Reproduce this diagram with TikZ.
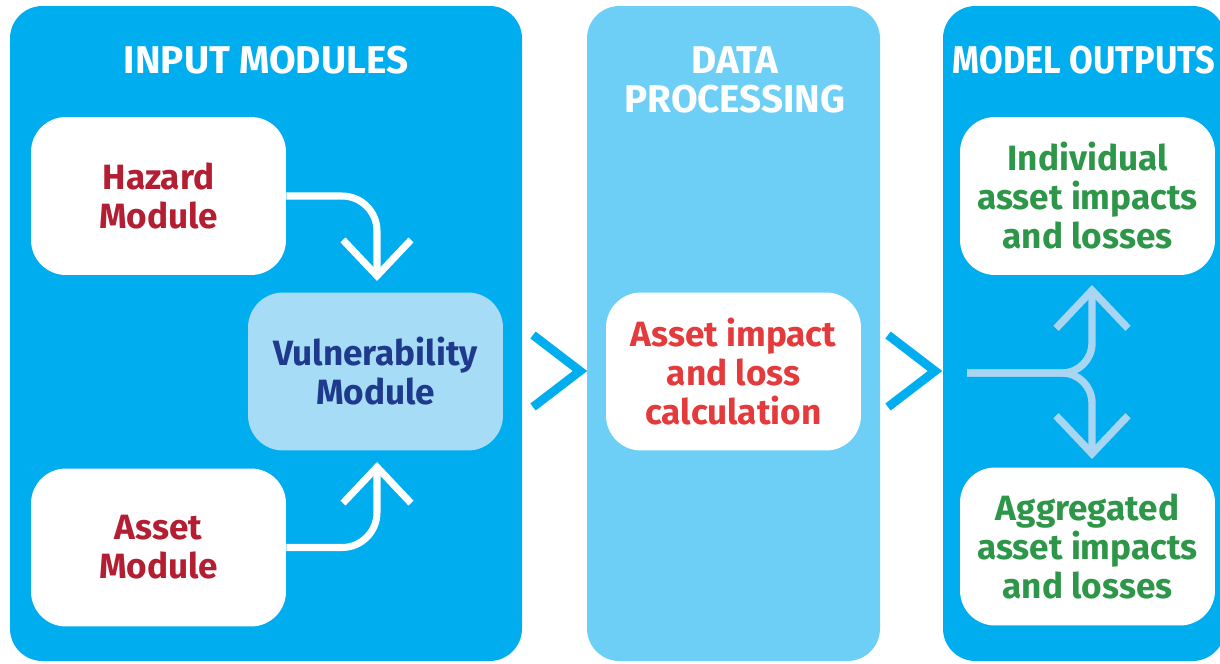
\documentclass[tikz,border=0pt]{standalone}
\usepackage{fontspec}
\setmainfont{Fira Sans}
\usetikzlibrary{arrows.meta}

\definecolor{panelblue}{RGB}{0,173,238}
\definecolor{panellight}{RGB}{109,207,246}
\definecolor{vulnfill}{RGB}{166,220,246}
\definecolor{forkblue}{RGB}{168,214,242}
\definecolor{hazred}{RGB}{180,30,50}
\definecolor{calcred}{RGB}{228,58,60}
\definecolor{vulnnavy}{RGB}{31,58,140}
\definecolor{outgreen}{RGB}{46,150,72}

\begin{document}
\begin{tikzpicture}[x=0.02cm, y=-0.02cm,
	box/.style={rounded corners=0.7cm, fill=white, minimum width=5.1cm, minimum height=3.16cm, align=center, font=\bfseries\fontsize{20}{22.2}\selectfont},
	title/.style={text=white, align=center, font=\bfseries\fontsize{22}{22.2}\selectfont},
	flow/.style={draw=white, line width=4pt, rounded corners=0.7cm, -{Straight Barb[length=0.72cm, width=1.36cm]}},
	fork/.style={draw=forkblue, line width=4.2pt, rounded corners=0.6cm, -{Straight Barb[length=0.76cm, width=1.44cm]}},
	chev/.style={draw=panelblue, line width=5pt, miter limit=10}]
				\useasboundingbox (0,0) rectangle (1220,663);
				\fill[panelblue, rounded corners=0.65cm] (10,6) rectangle (522,661);
				\fill[panellight, rounded corners=0.65cm] (587,6) rectangle (880,661);
				\fill[panelblue, rounded corners=0.65cm] (943,6) rectangle (1225,661);
				\node[title] (intitle) at (266,60) {INPUT MODULES};
				\node[title] (datatitle) at (735,80) {DATA\\PROCESSING};
				\node[title, font=\bfseries\fontsize{22}{22.2}\selectfont\addfontfeatures{FakeStretch=0.89}] (outtitle) at (1084,60) {MODEL OUTPUTS};
				\node[box, text=hazred] (hazard) at (158.5,196) {Hazard\\Module};
				\node[box, text=hazred] (asset) at (158.5,547.5) {Asset\\Module};
				\node[box, fill=vulnfill, text=vulnnavy] (vuln) at (375.5,371.5) {Vulnerability\\Module};
				\node[box, text=calcred] (calc) at (733.5,371.5) {Asset impact\\and loss\\calculation};
				\node[box, text=outgreen] (indiv) at (1087.5,196) {Individual\\asset impacts\\and losses};
				\node[box, text=outgreen] (aggr) at (1087.5,546.5) {Aggregated\\asset impacts\\and losses};
				\coordinate (hzend) at (377,281);
				\coordinate (asend) at (377,462);
				\coordinate (fk) at (967,373);
				\coordinate (upend) at (1092,285);
				\coordinate (dnend) at (1092,459);
				\draw[flow] (hazard.east) -| (hzend);
				\draw[flow] (asset.east) -| (asend);
				\draw[fork] (fk) -| (upend);
				\draw[fork] (fk) -| (dnend);
				\draw[chev] (533,335) -- (580,371) -- (533,407);
				\draw[chev] (888,335) -- (935,371) -- (888,407);
			\end{tikzpicture}
\end{document}
